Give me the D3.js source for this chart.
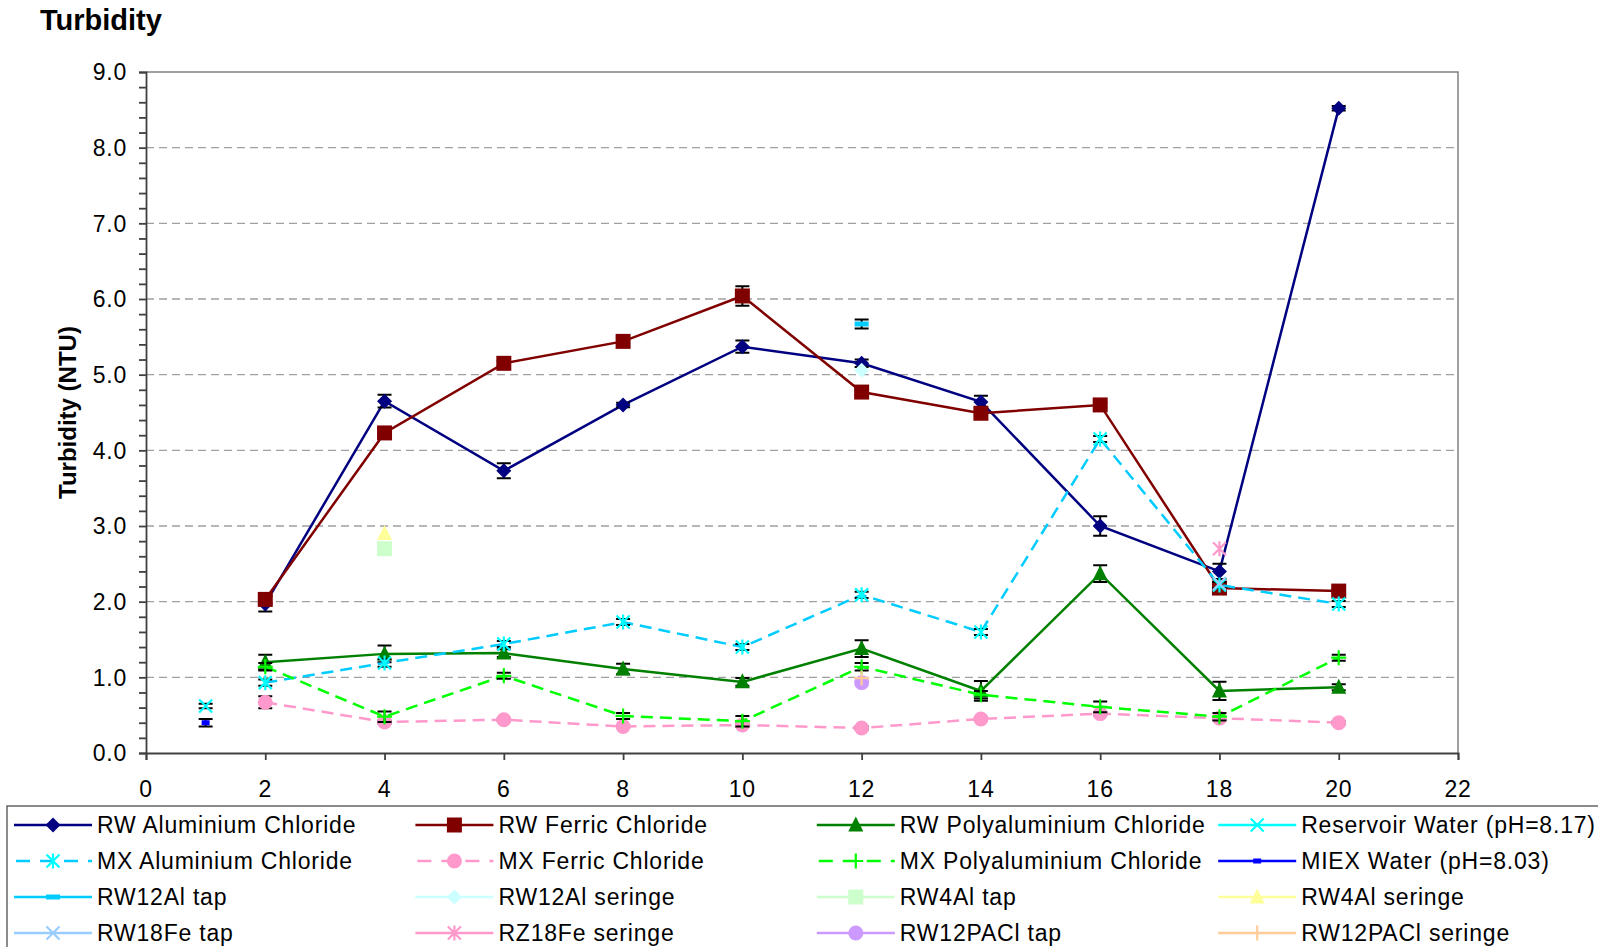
<!DOCTYPE html>
<html>
<head>
<meta charset="utf-8">
<script src="https://cdn.jsdelivr.net/npm/d3@7"></script>
<style>
  body { margin: 0; background: #fff; }
  svg { display: block; font-family: "Liberation Sans", Arial, sans-serif; }
</style>
</head>
<body>
<svg width="1598" height="947"></svg>
<script>
// data
const doses = [2, 4, 6, 8, 10, 12, 14, 16, 18, 20];

const rwAlCl    = [1.97, 4.65, 3.73, 4.60, 5.37, 5.15, 4.64, 3.00, 2.40, 8.52];
const rwAlClErr = [0.10, 0.085, 0.10, 0.03, 0.08, 0.05, 0.08, 0.13, 0.10, 0.03];
const rwFeCl    = [2.03, 4.23, 5.15, 5.44, 6.04, 4.77, 4.49, 4.60, 2.18, 2.14];
const rwFeClErr = [0.04, 0.04, 0.03, 0.03, 0.13, 0.04, 0.03, 0.03, 0.04, 0.03];
const rwPACl    = [1.20, 1.31, 1.32, 1.11, 0.94, 1.38, 0.82, 2.37, 0.82, 0.87];
const rwPAClErr = [0.10, 0.11, 0.05, 0.07, 0.05, 0.11, 0.13, 0.11, 0.12, 0.04];
const mxAlCl    = [0.93, 1.19, 1.44, 1.73, 1.40, 2.09, 1.60, 4.15, 2.22, 1.97];
const mxAlClErr = [0.04, 0.05, 0.04, 0.04, 0.04, 0.04, 0.04, 0.04, 0.04, 0.04];
const mxFeCl    = [0.67, 0.41, 0.44, 0.35, 0.37, 0.33, 0.45, 0.52, 0.46, 0.40];
const mxFeClErr = [0.08, 0.02, 0.02, 0.02, 0.02, 0.02, 0.02, 0.02, 0.02, 0.02];
const mxPACl    = [1.14, 0.48, 1.02, 0.49, 0.42, 1.14, 0.77, 0.61, 0.48, 1.26];
const mxPAClErr = [0.05, 0.07, 0.04, 0.04, 0.07, 0.05, 0.05, 0.07, 0.05, 0.04];

// single samples
const reservoirX = [1],  reservoirY = [0.62], reservoirErr = [0.03];
const miexX = [1],       miexY = [0.40],      miexErr = [0.05];
const rw12AlTapX = [12], rw12AlTapY = [5.67], rw12AlTapErr = [0.06];
const rw12AlSerX = [12], rw12AlSerY = [5.06];
const rw4AlTapX = [4],   rw4AlTapY = [2.70];
const rw4AlSerX = [4],   rw4AlSerY = [2.90];
const rw18FeTapX = [18], rw18FeTapY = [2.24];
const rz18FeSerX = [18], rz18FeSerY = [2.70];
const rw12PAClTapX = [12], rw12PAClTapY = [0.93];
const rw12PAClSerX = [12], rw12PAClSerY = [0.99];

const xTicks = [0, 2, 4, 6, 8, 10, 12, 14, 16, 18, 20, 22];
const yTicks = [0, 1, 2, 3, 4, 5, 6, 7, 8, 9];

const series = [
  {name: "RW Aluminium Chloride", xs: doses, ys: rwAlCl, err: rwAlClErr, color: "#000080", mark: "#000080", shape: "diamond"},
  {name: "RW Ferric Chloride", xs: doses, ys: rwFeCl, err: rwFeClErr, color: "#800000", mark: "#800000", shape: "square"},
  {name: "RW Polyaluminium Chloride", xs: doses, ys: rwPACl, err: rwPAClErr, color: "#008000", mark: "#008000", shape: "triangle"},
  {name: "Reservoir Water (pH=8.17)", xs: reservoirX, ys: reservoirY, err: reservoirErr, color: "#00FFFF", mark: "#00FFFF", shape: "x"},
  {name: "MX Aluminium Chloride", xs: doses, ys: mxAlCl, err: mxAlClErr, color: "#00CCFF", mark: "#00FFFF", shape: "asterisk", dash: true},
  {name: "MX Ferric Chloride", xs: doses, ys: mxFeCl, err: mxFeClErr, color: "#FF99CC", mark: "#FF99CC", shape: "circle", dash: true},
  {name: "MX Polyaluminium Chloride", xs: doses, ys: mxPACl, err: mxPAClErr, color: "#00FF00", mark: "#00FF00", shape: "plus", dash: true},
  {name: "MIEX Water (pH=8.03)", xs: miexX, ys: miexY, err: miexErr, color: "#0000FF", mark: "#0000FF", shape: "dot"},
  {name: "RW12Al tap", xs: rw12AlTapX, ys: rw12AlTapY, err: rw12AlTapErr, color: "#00CCFF", mark: "#00CCFF", shape: "bar"},
  {name: "RW12Al seringe", xs: rw12AlSerX, ys: rw12AlSerY, color: "#CCFFFF", mark: "#CCFFFF", shape: "diamond"},
  {name: "RW4Al tap", xs: rw4AlTapX, ys: rw4AlTapY, color: "#CCFFCC", mark: "#CCFFCC", shape: "square"},
  {name: "RW4Al seringe", xs: rw4AlSerX, ys: rw4AlSerY, color: "#FFFF99", mark: "#FFFF99", shape: "triangle"},
  {name: "RW18Fe tap", xs: rw18FeTapX, ys: rw18FeTapY, color: "#99CCFF", mark: "#99CCFF", shape: "x"},
  {name: "RZ18Fe seringe", xs: rz18FeSerX, ys: rz18FeSerY, color: "#FF99CC", mark: "#FF99CC", shape: "asterisk"},
  {name: "RW12PACl tap", xs: rw12PAClTapX, ys: rw12PAClTapY, color: "#CC99FF", mark: "#CC99FF", shape: "circle"},
  {name: "RW12PACl seringe", xs: rw12PAClSerX, ys: rw12PAClSerY, color: "#FFCC99", mark: "#FFCC99", shape: "plus"}
];

const svg = d3.select("svg"),
    plot = {left: 146, top: 72, right: 1458, bottom: 753};

const x = d3.scaleLinear().domain([0, 22]).range([plot.left, plot.right]);
const y = d3.scaleLinear().domain([0, 9]).range([plot.bottom, plot.top]);

// marker shapes, centred on 0,0
function markerPath(shape) {
  const s = 7.5;
  switch (shape) {
    case "diamond": return `M0,${-s}L${s},0L0,${s}L${-s},0Z`;
    case "square": return `M${-s},${-s}H${s}V${s}H${-s}Z`;
    case "triangle": return `M0,${-s - 1}L${s},${s - 1}L${-s},${s - 1}Z`;
    case "circle": return d3.symbol(d3.symbolCircle, 175)();
    case "x": return `M-6.5,-6.5L6.5,6.5M-6.5,6.5L6.5,-6.5`;
    case "asterisk": return `M-6.5,-6.5L6.5,6.5M-6.5,6.5L6.5,-6.5M0,-7.5L0,7.5`;
    case "plus": return `M-7.5,0L7.5,0M0,-7.5L0,7.5`;
    case "bar": return `M-7,-2.5H7V2.5H-7Z`;
    case "dot": return `M-4,-2.5H4V2.5H-4Z`;
  }
}
const stroked = s => ["x", "asterisk", "plus"].includes(s);

function drawMarker(g, shape, color) {
  g.append("path")
      .attr("d", markerPath(shape))
      .attr("fill", stroked(shape) ? "none" : color)
      .attr("stroke", stroked(shape) ? color : "none")
      .attr("stroke-width", 2.2);
}

// title
svg.append("text")
    .attr("x", 40).attr("y", 30)
    .attr("font-size", 29).attr("font-weight", "bold")
    .text("Turbidity");

// gridlines
svg.append("g")
    .selectAll("line")
    .data(yTicks.filter(d => d > 0 && d < 9))
    .join("line")
    .attr("x1", plot.left).attr("x2", plot.right)
    .attr("y1", d => y(d)).attr("y2", d => y(d))
    .attr("stroke", "#a0a0a0")
    .attr("stroke-width", 1.3)
    .attr("stroke-dasharray", "8,5");

// plot border top/right
svg.append("path")
    .attr("d", `M${plot.left},${plot.top}H${plot.right}V${plot.bottom}`)
    .attr("fill", "none")
    .attr("stroke", "#808080")
    .attr("stroke-width", 1.5);

// axes
const yAxis = svg.append("g")
    .attr("transform", `translate(${plot.left},0)`)
    .call(d3.axisLeft(y).ticks(45).tickSize(7).tickFormat(""));
yAxis.selectAll("path, line").attr("stroke", "#404040").attr("stroke-width", 1.8);

svg.append("g")
    .selectAll("text")
    .data(yTicks)
    .join("text")
    .attr("x", 127)
    .attr("y", d => y(d))
    .attr("dy", "0.36em")
    .attr("text-anchor", "end")
    .attr("font-size", 23)
    .attr("letter-spacing", 0.8)
    .text(d => d.toFixed(1));

const xAxis = svg.append("g")
    .attr("transform", `translate(0,${plot.bottom})`)
    .call(d3.axisBottom(x).tickValues(xTicks).tickSize(7).tickFormat(""));
xAxis.selectAll("path, line").attr("stroke", "#404040").attr("stroke-width", 1.8);

svg.append("g")
    .selectAll("text")
    .data(xTicks)
    .join("text")
    .attr("x", d => x(d))
    .attr("y", 797)
    .attr("text-anchor", "middle")
    .attr("font-size", 23)
    .attr("letter-spacing", 0.8)
    .text(d => d);

svg.append("text")
    .attr("transform", `translate(76,${(plot.top + plot.bottom) / 2}) rotate(-90)`)
    .attr("text-anchor", "middle")
    .attr("font-size", 24)
    .attr("font-weight", "bold")
    .text("Turbidity (NTU)");

// series
const line = d3.line().x(d => x(d[0])).y(d => y(d[1]));

series.forEach(s => {
  const pts = s.xs.map((v, i) => [v, s.ys[i], s.err ? s.err[i] : 0]);
  const g = svg.append("g");

  if (pts.length > 1) {
    g.append("path")
        .attr("d", line(pts))
        .attr("fill", "none")
        .attr("stroke", s.color)
        .attr("stroke-width", 2.5)
        .attr("stroke-dasharray", s.dash ? "12,7" : null);
  }

  // error bars
  g.selectAll(".eb")
      .data(pts.filter(p => p[2] > 0))
      .join("path")
      .attr("d", p => {
        const cx = x(p[0]), y0 = y(p[1] - p[2]), y1 = y(p[1] + p[2]);
        return `M${cx},${y0}V${y1}M${cx - 7},${y0}H${cx + 7}M${cx - 7},${y1}H${cx + 7}`;
      })
      .attr("fill", "none")
      .attr("stroke", "#000")
      .attr("stroke-width", 2);

  pts.forEach(p => {
    const m = g.append("g").attr("transform", `translate(${x(p[0])},${y(p[1])})`);
    drawMarker(m, s.shape, s.mark);
  });
});

// legend
svg.append("rect")
    .attr("x", 7).attr("y", 806)
    .attr("width", 1620).attr("height", 200)
    .attr("fill", "#fff")
    .attr("stroke", "#404040")
    .attr("stroke-width", 1.2);

const legend = svg.append("g")
    .selectAll("g")
    .data(series)
    .join("g")
    .attr("transform", (d, i) => `translate(${14 + (i % 4) * 401.4},${825 + Math.floor(i / 4) * 36})`);

legend.append("line")
    .attr("x1", 0).attr("x2", 78)
    .attr("stroke", d => d.color)
    .attr("stroke-width", 2.5)
    .attr("stroke-dasharray", d => d.dash ? "14,10" : null)
    .attr("stroke-dashoffset", d => d.dash ? -2 : null);

legend.each(function(d) {
  const m = d3.select(this).append("g").attr("transform", "translate(39,0)");
  drawMarker(m, d.shape, d.mark);
});

legend.append("text")
    .attr("x", 83)
    .attr("dy", "0.36em")
    .attr("font-size", 23)
    .attr("letter-spacing", 0.8)
    .text(d => d.name);
</script>
</body>
</html>
